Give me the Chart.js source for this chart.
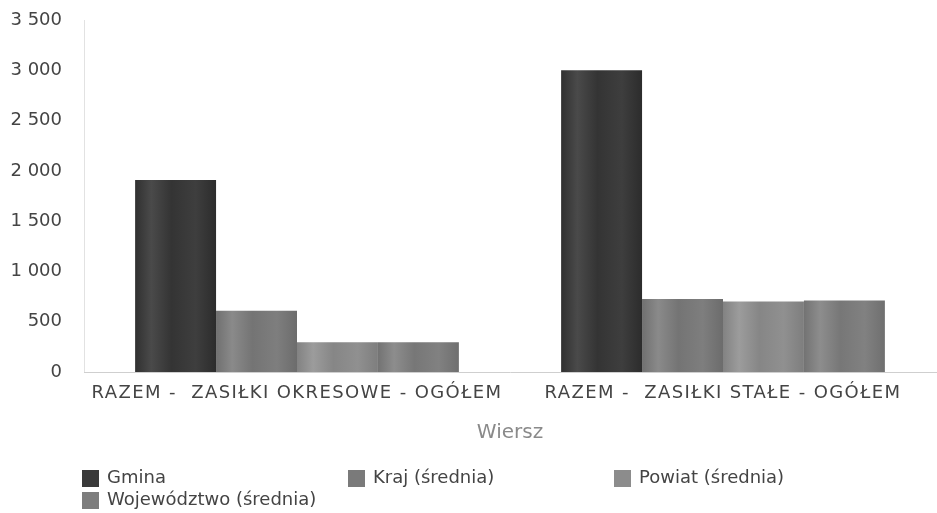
<!DOCTYPE html>
<html lang="pl">
<head>
<meta charset="UTF-8">
<title>Zasiłki</title>
<script src="https://cdn.jsdelivr.net/npm/chart.js"></script>
<style>
  html, body { margin: 0; padding: 0; background: #fff; }
</style>
</head>
<body>
<canvas id="wykres" width="937" height="513"></canvas>
<script>
const kategorie = ['RAZEM -  ZASIŁKI OKRESOWE - OGÓŁEM', 'RAZEM -  ZASIŁKI STAŁE - OGÓŁEM'];
const serie = ['Gmina', 'Kraj (średnia)', 'Powiat (średnia)', 'Województwo (średnia)'];
const gmina = [1910, 3000];
const kraj = [610, 725];
const powiat = [295, 700];
const wojewodztwo = [295, 710];
const osY = [0, 500, 1000, 1500, 2000, 2500, 3000, 3500];

const kolory = ['#3a3a3a', '#7a7a7a', '#8c8c8c', '#7d7d7d'];
const FONT = 'DejaVu Sans';

// liczby z separatorem tysięcy jako spacja, jak w oryginale
function formatuj(v) {
  return String(v).replace(/\B(?=(\d{3})+(?!\d))/g, ' ');
}

function jasniej(hex, d) {
  const c = parseInt(hex.slice(1, 3), 16);
  const v = Math.max(0, Math.min(255, c + d));
  return 'rgb(' + v + ',' + v + ',' + v + ')';
}

// słupki z poziomym cieniowaniem (walce jak w oryginale)
const cieniowanie = {
  id: 'cieniowanie',
  beforeDatasetsDraw(chart) {
    const ctx = chart.ctx;
    chart.data.datasets.forEach((ds, i) => {
      const kolor = kolory[i];
      chart.getDatasetMeta(i).data.forEach(bar => {
        const x0 = bar.x - bar.width / 2, x1 = bar.x + bar.width / 2;
        const g = ctx.createLinearGradient(x0, 0, x1, 0);
        g.addColorStop(0, jasniej(kolor, -10));
        g.addColorStop(0.2, jasniej(kolor, 16));
        g.addColorStop(0.45, jasniej(kolor, -6));
        g.addColorStop(0.75, jasniej(kolor, 4));
        g.addColorStop(1, jasniej(kolor, -14));
        // opcje bywają współdzielone między słupkami, więc kopia
        bar.options = Object.assign({}, bar.options, { backgroundColor: g });
      });
    });
  }
};

// szersze etykiety kategorii (oryginał ma rozstrzelony krój)
const rozstrzelone = {
  id: 'rozstrzelone',
  afterLayout(chart) {
    const sx = chart.scales.x;
    if (sx._rozstrz) return;
    const orig = sx.drawLabels.bind(sx);
    sx.drawLabels = (area) => {
      chart.ctx.save();
      chart.ctx.letterSpacing = '1.4px';
      orig(area);
      chart.ctx.restore();
    };
    sx._rozstrz = true;
  }
};

// legenda w trzech kolumnach pod wykresem
const legendaKolumny = {
  id: 'legendaKolumny',
  afterDraw(chart) {
    const ctx = chart.ctx;
    const left = 82, colW = 266, rowH = 22, top = 478;
    ctx.save();
    ctx.font = '18px "' + FONT + '"';
    ctx.textBaseline = 'middle';
    chart.data.datasets.forEach((ds, i) => {
      const x = left + (i % 3) * colW;
      const y = top + Math.floor(i / 3) * rowH;
      ctx.fillStyle = kolory[i];
      ctx.fillRect(x, y - 8, 17, 17);
      ctx.fillStyle = '#444';
      ctx.fillText(ds.label, x + 25, y);
    });
    ctx.restore();
  }
};

const dane = [gmina, kraj, powiat, wojewodztwo];

new Chart(document.getElementById('wykres'), {
  type: 'bar',
  data: {
    labels: kategorie,
    datasets: serie.map((s, i) => ({
      label: s,
      data: dane[i],
      backgroundColor: kolory[i],
      borderWidth: 0,
      categoryPercentage: 0.76,
      barPercentage: 1
    }))
  },
  options: {
    responsive: false,
    animation: false,
    layout: { padding: { top: 20, right: 1, bottom: 61, left: 0 } },
    plugins: {
      legend: { display: false },
      tooltip: { enabled: false }
    },
    scales: {
      y: {
        min: 0,
        max: 3500,
        afterBuildTicks: s => { s.ticks = osY.map(v => ({ value: v })); },
        afterFit: s => { s.width = 84; s.paddingTop = 0; s.paddingBottom = 0; },
        grid: { display: false },
        border: { color: '#e2e2e2' },
        ticks: {
          color: '#444',
          font: { family: FONT, size: 18 },
          padding: 14,
          callback: v => formatuj(v)
        }
      },
      x: {
        afterFit: s => { s.height = 80; },
        grid: { display: false },
        border: { color: '#cfcfcf' },
        ticks: {
          color: '#444',
          font: { family: FONT, size: 18 },
          padding: 3,
          maxRotation: 0
        },
        title: {
          display: true,
          text: 'Wiersz',
          color: '#8a8a8a',
          font: { family: FONT, size: 20 },
          padding: { top: 7, bottom: 7 }
        }
      }
    }
  },
  plugins: [cieniowanie, rozstrzelone, legendaKolumny]
});
</script>
</body>
</html>
